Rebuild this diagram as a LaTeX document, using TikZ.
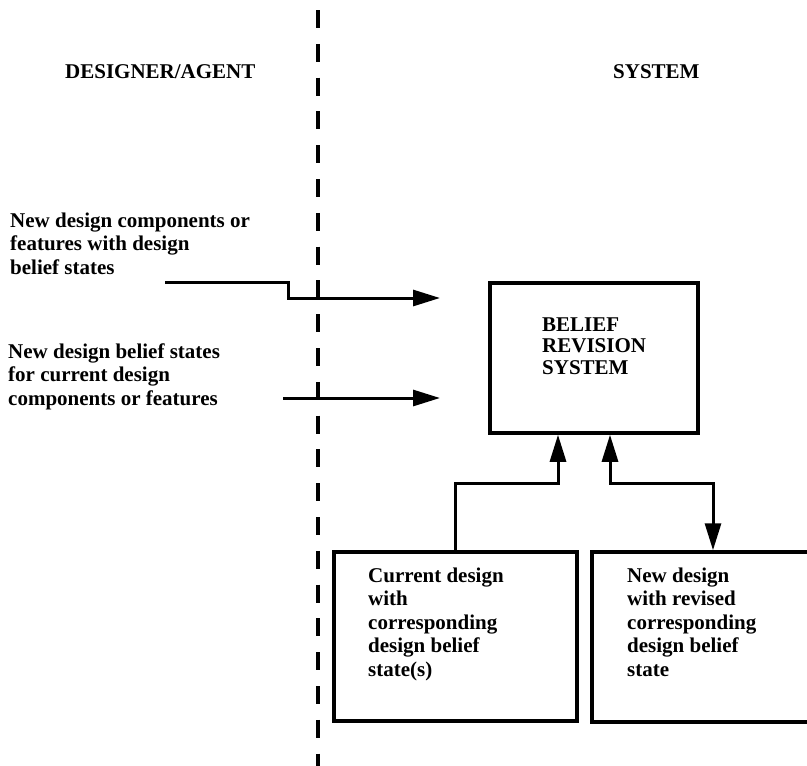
\documentclass[tikz,border=0pt]{standalone}
\usepackage{fontspec}
\setmainfont{Liberation Serif}
\usetikzlibrary{arrows.meta}
\newcommand{\mylines}[1]{\begin{tabular}[t]{@{}l@{}}#1\end{tabular}}
\begin{document}
\begin{tikzpicture}[x=1pt,y=-1pt,
  txt/.style={font=\fontsize{21}{23.5}\selectfont\bfseries, inner sep=0pt, anchor=base west},
  boxx/.style={draw, line width=3.5pt, inner sep=0pt},
  conn/.style={line width=3pt, line join=miter},
  tip/.tip={Triangle[length=27pt,width=16pt]},
  divider/.style={line width=4pt, dash pattern=on 18pt off 15.8pt}]
\useasboundingbox (0,0) rectangle (807,766);

% divider
\coordinate (dt) at (318,10);
\coordinate (db) at (318,775);
\draw[divider] (dt) -- (db);

% headers
\node[txt] (hda) at (65,78) {DESIGNER/AGENT};
\node[txt] (hsy) at (613,78) {SYSTEM};

% left texts
\node[txt] (t1) at (10,227) {\mylines{New design components or\\features with design\\belief states}};
\node[txt] (t2) at (8,358) {\mylines{New design belief states\\for current design\\components or features}};

% boxes
\node[boxx, minimum width=208pt, minimum height=150pt] (brs) at (594,358) {};
\node[txt, font=\fontsize{21}{21.5}\selectfont\bfseries] (brst) at (542,331) {\mylines{BELIEF\\REVISION\\SYSTEM}};

\node[boxx, minimum width=243pt, minimum height=169pt] (lb) at (455.5,636.5) {};
\node[txt] (lbt) at (368,582) {\mylines{Current design\\with\\corresponding\\design belief\\state(s)}};

\node[boxx, minimum width=223pt, minimum height=170pt] (rb) at (703.5,637) {};
\node[txt] (rbt) at (627,582) {\mylines{New design\\with revised\\corresponding\\design belief\\state}};

% input arrows
\coordinate (a1s) at (165,282);
\coordinate (a1b) at (288,282);
\coordinate (a1e) at (440,298);
\draw[conn,-tip] (a1s) -- (a1b) |- (a1e);
\coordinate (a2s) at (283,398);
\coordinate (a2e) at (440,398);
\draw[conn,-tip] (a2s) -- (a2e);

% lower connectors
\coordinate (lx) at (558,483);
\draw[conn,-tip] (lb.north) |- (lx) -- (lx |- brs.south);
\coordinate (rx) at (610,483);
\coordinate (ry) at (713,483);
\draw[conn,tip-tip] (rx |- brs.south) -- (rx) -- (ry) -- (ry |- rb.north);
\end{tikzpicture}
\end{document}
